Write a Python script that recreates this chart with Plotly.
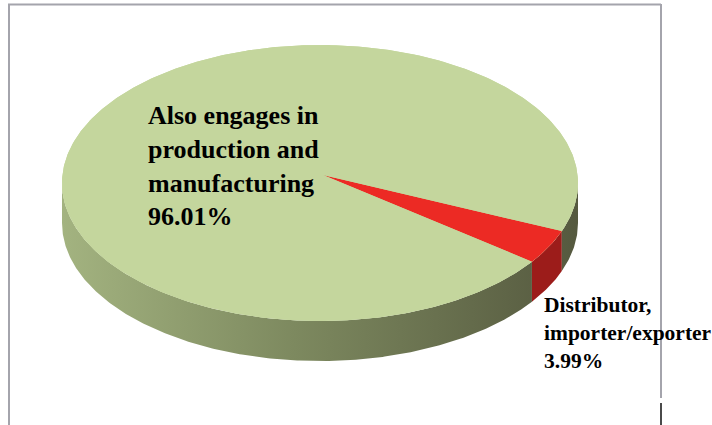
import numpy as np
import plotly.graph_objects as go

# Business activity split
categories = ["Also engages in production and manufacturing", "Distributor, importer/exporter"]
values = [96.01, 3.99]
label_lines = [["Also engages in", "production and", "manufacturing"],
               ["Distributor,", "importer/exporter"]]

# Styling
top_colors = ["#c4d69d", "#ec2a24"]
side_colors = [None, "#9c1c1a"]
side_gradient = [[0.0, "#a3b380"], [0.45, "#7d895f"], [1.0, "#55593f"]]

# Pie geometry (pixel space)
CX, CY = 320, 183
RX, RY = 258, 138
DEPTH = 40
APEX_X, APEX_Y = 323, 175   # perspective centre of the top face
START = 20.4          # angle where the first drawn slice begins (degrees, clockwise)
draw_order = [1, 0]

W, H = 712, 425


def rim(t_deg, dy=0.0):
    t = np.radians(t_deg)
    return CX + RX * np.cos(t), CY + RY * np.sin(t) + dy


total = float(sum(values))
spans = {}
a0 = START
for i in draw_order:
    a1 = a0 + 360.0 * values[i] / total
    spans[i] = (a0, a1)
    a0 = a1

fig = go.Figure()

# Side wall (front half only: angles 0..180 and the wrapped 360..540)
for i in draw_order:
    s, e = spans[i]
    for lo, hi in [(0, 180), (360, 540)]:
        a, b = max(s, lo), min(e, hi)
        if b <= a:
            continue
        t = np.linspace(a, b, max(int(b - a) * 2, 4))
        xt, yt = rim(t)
        xb, yb = rim(t[::-1], DEPTH)
        xs = np.concatenate([xt, xb, xt[:1]])
        ys = np.concatenate([yt, yb, yt[:1]])
        kw = dict(x=xs, y=ys, mode="lines", fill="toself",
                  line=dict(width=0), hoverinfo="skip", showlegend=False)
        if side_colors[i] is None:
            kw["fillgradient"] = dict(type="horizontal", colorscale=side_gradient,
                                      start=CX - RX, stop=CX + RX)
        else:
            kw["fillcolor"] = side_colors[i]
        fig.add_trace(go.Scatter(**kw))

# Top face: full ellipse in the main colour, then each slice from the apex
tt = np.linspace(0, 360, 721)
ex, ey = rim(tt)
fig.add_trace(go.Scatter(x=ex, y=ey, mode="lines", fill="toself",
                         fillcolor=top_colors[0], line=dict(width=0),
                         hoverinfo="skip", showlegend=False))
for i in draw_order:
    s, e = spans[i]
    t = np.linspace(s, e, max(int(e - s) * 2, 6))
    xt, yt = rim(t)
    xs = np.concatenate([[APEX_X], xt, [APEX_X]])
    ys = np.concatenate([[APEX_Y], yt, [APEX_Y]])
    fig.add_trace(go.Scatter(x=xs, y=ys, mode="lines", fill="toself",
                             fillcolor=top_colors[i], line=dict(width=0),
                             hoverinfo="skip", showlegend=False))

# Slice labels
label_pos = [(146, 99, 26), (542, 291, 21.5)]
for i, (lx, ly, size) in enumerate(label_pos):
    txt = "<br>".join(label_lines[i] + [f"{values[i]:.2f}%"])
    fig.add_annotation(x=lx, y=ly, xref="x", yref="y", xanchor="left", yanchor="top",
                       align="left", showarrow=False, text=f"<b>{txt}</b>",
                       font=dict(family="Liberation Serif", size=size, color="#000000"))

# Frame
frame = "#a4a4ac"
fig.add_shape(type="line", x0=8, y0=4.5, x1=661, y1=4.5, line=dict(color=frame, width=2))
fig.add_shape(type="line", x0=9, y0=4, x1=9, y1=425, line=dict(color=frame, width=2))
fig.add_shape(type="line", x0=661, y0=4, x1=661, y1=398, line=dict(color=frame, width=2))
fig.add_shape(type="line", x0=661, y0=403, x1=661, y1=425, line=dict(color="#4a4a4a", width=2))

fig.update_layout(
    width=W, height=H,
    margin=dict(l=0, r=0, t=0, b=0),
    paper_bgcolor="white", plot_bgcolor="white",
    xaxis=dict(range=[0, W], visible=False, fixedrange=True),
    yaxis=dict(range=[H, 0], visible=False, fixedrange=True),
    hovermode=False, showlegend=False,
)

fig.write_html("out.html")
